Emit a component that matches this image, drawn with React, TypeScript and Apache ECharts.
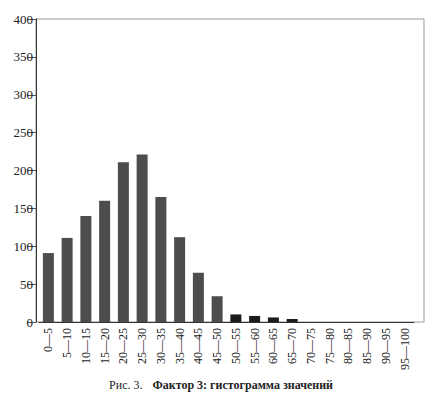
import React, { useEffect, useRef } from "react";
import * as echarts from "echarts";

const categories = [
  "0—5", "5—10", "10—15", "15—20", "20—25", "25—30", "30—35", "35—40", "40—45", "45—50",
  "50—55", "55—60", "60—65", "65—70", "70—75", "75—80", "80—85", "85—90", "90—95", "95—100",
];
const counts = [91, 111, 140, 160, 211, 221, 165, 112, 65, 34, 10, 8, 6, 4, 0, 0, 0, 0, 0, 0];
const yTicks = [0, 50, 100, 150, 200, 250, 300, 350, 400];
const captionPrefix = "Рис. 3.";
const captionTitle = "Фактор 3: гистограмма значений";

const SERIF = "'Liberation Serif', 'DejaVu Serif', serif";

export default function App() {
  const ref = useRef<HTMLDivElement>(null);
  useEffect(() => {
    if (!ref.current) return;
    const chart = echarts.init(ref.current, undefined, { renderer: "svg" });
    chart.setOption({
      animation: false,
      backgroundColor: "#ffffff",
      grid: { left: 39, right: 18, top: 19, bottom: 76, containLabel: false },
      graphic: [
        {
          type: "rect",
          z: -1,
          shape: { x: 36, y: 19, width: 388, height: 303 },
          style: { fill: "none", stroke: "#9a9a9a", lineWidth: 1 },
        },
        {
          type: "text",
          x: 221,
          y: 385,
          style: {
            text: `{a|${captionPrefix}}   {b|${captionTitle}}`,
            align: "center",
            verticalAlign: "middle",
            rich: {
              a: { fontFamily: SERIF, fontSize: 12, fill: "#222" },
              b: { fontFamily: SERIF, fontSize: 12, fontWeight: "bold", fill: "#222" },
            },
          },
        },
      ],
      xAxis: {
        type: "category",
        data: categories,
        axisLine: { show: true, lineStyle: { color: "#333", width: 1 } },
        axisTick: { show: false },
        axisLabel: {
          rotate: 90,
          interval: 0,
          margin: 6,
          fontFamily: SERIF,
          fontSize: 12,
          color: "#222",
        },
      },
      yAxis: {
        type: "value",
        min: 0,
        max: yTicks[yTicks.length - 1],
        interval: 50,
        offset: 3,
        splitLine: { show: false },
        axisLine: { show: true, lineStyle: { color: "#333", width: 1 } },
        axisTick: { show: true, length: 9, lineStyle: { color: "#555" } },
        axisLabel: { margin: 3, fontFamily: SERIF, fontSize: 13, color: "#222" },
      },
      series: [
        {
          type: "bar",
          data: counts.map((v) => ({
            value: v,
            itemStyle: { color: v < 20 ? "#1c1c1c" : "#4d4d4d" },
          })),
          barWidth: 11,
        },
      ],
    });
    return () => chart.dispose();
  }, []);
  return (
    <div
      ref={ref}
      style={{ position: "absolute", left: 0, top: 0, width: 432, height: 398 }}
    />
  );
}
